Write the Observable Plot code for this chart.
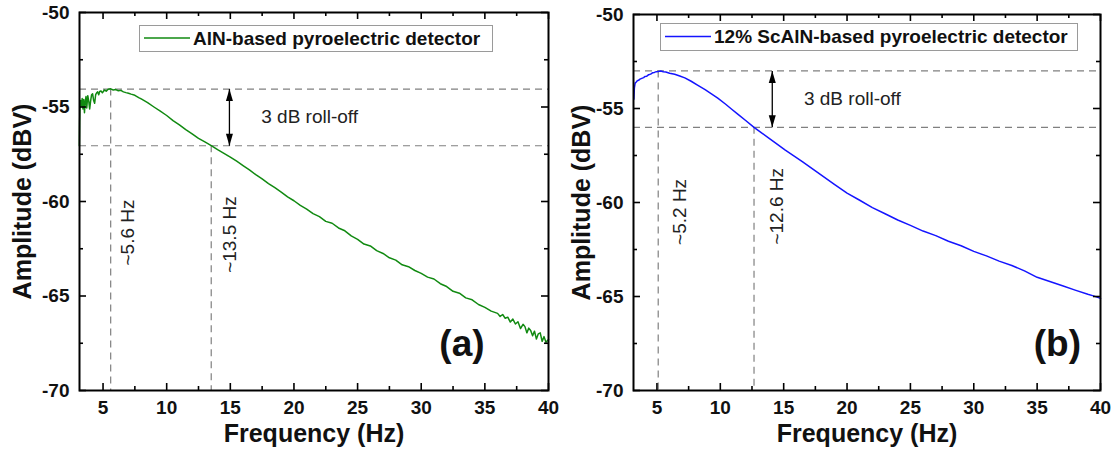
<!DOCTYPE html>
<html><head><meta charset="utf-8">
<script src="https://cdn.jsdelivr.net/npm/d3@7"></script>
<script src="https://cdn.jsdelivr.net/npm/@observablehq/plot@0.6"></script>
<style>
body{margin:0;background:#fff;font-family:"Liberation Sans",Arial,sans-serif;}
#wrap{position:relative;width:1118px;height:450px;overflow:hidden;}
.panel{position:absolute;top:0;}
.panel svg{overflow:visible;}
.legend{position:absolute;border:1.5px solid #9a9a9a;background:#fff;box-sizing:border-box;}
.legend svg{position:absolute;left:2px;top:0;}
.legend span{position:absolute;top:50%;transform:translateY(-50%);font-weight:bold;font-size:19px;color:#111;white-space:nowrap;}
</style></head><body><div id="wrap"></div>
<script>
// ---------- data ----------
const freqA = [3.14,3.16,3.19,3.24,3.30,3.36,3.42,3.48,3.54,3.60,3.66,3.72,3.80,3.88,3.95,4.02,4.10,4.18,4.26,4.34,4.42,4.50,4.58,4.66,4.74,4.84,4.95,5.10,5.25,5.40,5.60,5.80,6.00,6.20,6.40,6.60,6.80,7.00,7.20,7.50,7.80,8.00,8.50,9.00,9.50,10.0,10.5,11.0,11.5,12.0,12.5,13.0,13.5,14.0,14.5,15.0,15.5,16.0,16.5,17.0,17.5,18.0,18.5,19.0,19.5,20.0,20.5,21.0,21.5,22.0,22.5,23.0,23.5,24.0,24.5,25.0,25.5,26.0,26.5,27.0,27.5,28.0,28.5,29.0,29.5,30.0,30.5,31.0,31.5,32.0,32.5,33.0,33.5,34.0,34.5,35.0,35.5,36.0,36.2,36.4,36.6,36.8,37.0,37.2,37.4,37.6,37.8,38.0,38.15,38.3,38.45,38.6,38.75,38.9,39.05,39.2,39.35,39.5,39.65,39.8,40.0];
const ampA = [-57.05,-55.8,-54.9,-54.66,-54.95,-54.55,-55.1,-54.6,-55.3,-54.7,-54.45,-55.05,-54.4,-54.7,-55.1,-54.7,-54.35,-54.3,-54.65,-54.8,-54.35,-54.25,-54.2,-54.35,-54.18,-54.15,-54.25,-54.1,-54.16,-54.06,-54.04,-54.1,-54.08,-54.14,-54.12,-54.2,-54.24,-54.27,-54.32,-54.38,-54.5,-54.57,-54.77,-55.0,-55.22,-55.45,-55.72,-55.95,-56.2,-56.42,-56.66,-56.85,-57.04,-57.26,-57.45,-57.65,-57.87,-58.1,-58.33,-58.58,-58.8,-59.05,-59.27,-59.5,-59.75,-59.96,-60.2,-60.4,-60.64,-60.8,-61.05,-61.15,-61.4,-61.55,-61.82,-62.0,-62.25,-62.35,-62.6,-62.75,-62.98,-63.1,-63.35,-63.45,-63.65,-63.8,-64.0,-64.1,-64.35,-64.5,-64.75,-64.85,-65.1,-65.2,-65.45,-65.6,-65.8,-65.92,-66.08,-65.98,-66.18,-66.12,-66.38,-66.22,-66.48,-66.36,-66.72,-66.5,-66.62,-66.95,-66.7,-66.82,-67.1,-66.86,-67.28,-67.0,-66.95,-67.4,-67.15,-67.45,-67.3];

const freqB = [3.18,3.22,3.28,3.35,3.45,3.55,3.66,3.80,3.95,4.05,4.20,4.35,4.50,4.65,4.80,4.95,5.10,5.30,5.50,5.70,6.00,6.40,6.80,7.20,7.70,8.20,8.80,9.30,9.80,10.4,10.9,11.4,12.0,12.66,13.2,13.8,14.4,15.1,15.8,16.5,17.0,18.0,19.0,20.0,21.0,22.0,23.0,24.0,25.0,26.0,27.0,28.0,29.0,30.0,31.0,32.0,33.0,34.0,35.0,36.0,37.0,38.0,39.0,39.5,40.0];
const ampB = [-54.5,-53.9,-53.65,-53.6,-53.52,-53.5,-53.44,-53.4,-53.36,-53.3,-53.28,-53.2,-53.17,-53.1,-53.08,-53.04,-53.03,-53.01,-53.05,-53.06,-53.12,-53.18,-53.27,-53.37,-53.55,-53.76,-54.0,-54.22,-54.45,-54.76,-55.04,-55.31,-55.64,-56.0,-56.27,-56.56,-56.85,-57.2,-57.52,-57.84,-58.08,-58.56,-59.03,-59.5,-59.88,-60.27,-60.6,-60.93,-61.22,-61.52,-61.76,-62.06,-62.3,-62.6,-62.84,-63.12,-63.35,-63.64,-63.98,-64.2,-64.43,-64.66,-64.88,-64.98,-65.1];

const xMajor = [5,10,15,20,25,30,35,40];
const xMinor = [7.5,12.5,17.5,22.5,27.5,32.5,37.5];
const yMajor = [-70,-65,-60,-55,-50];
const yMinor = [-67.5,-62.5,-57.5,-52.5];
const xTitle = "Frequency (Hz)";
const yTitle = "Amplitude (dBV)";

const labelsA = {legend:"AlN-based pyroelectric detector", tag:"(a)", peak:"~5.6 Hz", cut:"~13.5 Hz", roll:"3 dB roll-off"};
const labelsB = {legend:"12% ScAlN-based pyroelectric detector", tag:"(b)", peak:"~5.2 Hz", cut:"~12.6 Hz", roll:"3 dB roll-off"};
// annotation values: peak freq, cutoff freq, peak level, cutoff level
const annotA = {fPeak:5.6, fCut:13.5, lPeak:-54.05, lCut:-57.05, fArrow:14.93};
const annotB = {fPeak:5.1, fCut:12.66, lPeak:-53.0, lCut:-56.0, fArrow:14.1};

// ---------- drawing ----------
const headUp = {draw(ctx){ctx.moveTo(0,0);ctx.lineTo(-3.5,12);ctx.lineTo(3.5,12);ctx.closePath();}};
const headDown = {draw(ctx){ctx.moveTo(0,0);ctx.lineTo(-3.5,-12);ctx.lineTo(3.5,-12);ctx.closePath();}};

function panel(freq, amp, color, lab, an, lay) {
  const data = freq.map((f,i)=>({f, a: amp[i]}));
  const W = 559, H = 450;
  const pw = W - lay.ml - lay.mr, ph = H - lay.mt - lay.mb;
  const xDom = [3.15, 40], yDom = [-70, -50];
  const dash = {stroke:"#808080", strokeWidth:1.2, strokeDasharray:"7,5"};
  const tk = {stroke:"black", strokeWidth:1.6};
  const txt = {fill:"#111", fontWeight:"bold"};
  return Plot.plot({
    width: W, height: H,
    marginLeft: lay.ml, marginRight: lay.mr, marginTop: lay.mt, marginBottom: lay.mb,
    style: {background:"transparent", color:"black", fontFamily:"'Liberation Sans', Arial, sans-serif"},
    x: {domain: xDom, axis: null},
    y: {domain: yDom, axis: null},
    marks: [
      Plot.ruleY([an.lPeak, an.lCut], dash),
      Plot.ruleX([{f:an.fPeak, top:an.lPeak}, {f:an.fCut, top:an.lCut}], {x:"f", y1:"top", y2: yDom[0], ...dash}),
      Plot.line(data, {x:"f", y:"a", stroke: color, strokeWidth: 1.5}),
      Plot.link([{f:an.fArrow, a:an.lPeak, b:an.lCut}], {x1:"f", x2:"f", y1:"a", y2:"b", stroke:"black", strokeWidth:1.3}),
      Plot.dot([{f:an.fArrow, a:an.lPeak}], {x:"f", y:"a", symbol: headUp, fill:"black", stroke:"none"}),
      Plot.dot([{f:an.fArrow, a:an.lCut}], {x:"f", y:"a", symbol: headDown, fill:"black", stroke:"none"}),
      Plot.text([lab.roll], {x: an.fArrow + 2.5, y: (an.lPeak + an.lCut)/2 - lay.rollDy, textAnchor:"start", fontSize:19, fill:"#222"}),
      Plot.text([lab.peak], {x: an.fPeak + lay.pOff, y: lay.pY, rotate:-90, fontSize:19, fill:"#222"}),
      Plot.text([lab.cut], {x: an.fArrow + lay.cOff, y: lay.cY, rotate:-90, fontSize:19, fill:"#222"}),
      Plot.text([lab.tag], {x: lay.tagX, y: -67.55, fontSize:37, ...txt}),
      // inward ticks on all four sides
      Plot.ruleX(xMajor, {insetTop: ph - 7, ...tk}),
      Plot.ruleX(xMajor, {insetBottom: ph - 7, ...tk}),
      Plot.ruleX(xMinor, {insetTop: ph - 4, ...tk}),
      Plot.ruleX(xMinor, {insetBottom: ph - 4, ...tk}),
      Plot.ruleY(yMajor, {insetRight: pw - 7, ...tk}),
      Plot.ruleY(yMajor, {insetLeft: pw - 7, ...tk}),
      Plot.ruleY(yMinor, {insetRight: pw - 4, ...tk}),
      Plot.ruleY(yMinor, {insetLeft: pw - 4, ...tk}),
      Plot.frame({stroke:"black", strokeWidth:2}),
      // tick labels
      Plot.text(xMajor, {x: d => d, text: d => String(d), frameAnchor:"bottom", lineAnchor:"top", dy: 10, fontSize:19, ...txt}),
      Plot.text(yMajor, {y: d => d, text: d => String(d), frameAnchor:"left", textAnchor:"end", lineAnchor:"middle", dx: -10, fontSize:19, ...txt}),
      // axis titles
      Plot.text([xTitle], {frameAnchor:"bottom", lineAnchor:"middle", textAnchor:"middle", dy: 43, fontSize:25, ...txt}),
      Plot.text([yTitle], {frameAnchor:"left", lineAnchor:"middle", textAnchor:"middle", dx: -lay.yTitleOff, rotate:-90, fontSize:25, ...txt})
    ]
  });
}

function legend(parent, text, color, box) {
  const d = document.createElement("div");
  d.className = "legend";
  Object.assign(d.style, {left: box.x+"px", top: box.y+"px", width: box.w+"px", height: box.h+"px"});
  const ns = "http://www.w3.org/2000/svg";
  const s = document.createElementNS(ns, "svg");
  s.setAttribute("width", 50); s.setAttribute("height", box.h - 3);
  const l = document.createElementNS(ns, "line");
  l.setAttribute("x1", 2); l.setAttribute("x2", 48);
  l.setAttribute("y1", (box.h-3)/2); l.setAttribute("y2", (box.h-3)/2);
  l.setAttribute("stroke", color); l.setAttribute("stroke-width", 1.6);
  s.appendChild(l); d.appendChild(s);
  const t = document.createElement("span");
  t.textContent = text; t.style.left = "53px";
  d.appendChild(t);
  parent.appendChild(d);
}

const wrap = document.getElementById("wrap");
const layA = {ml:79, mr:11, mt:12, mb:60, pOff:1.35, pY:-61.64, cOff:0.07, cY:-61.75, tagX:33.2, yTitleOff:57, rollDy:0.0};
const layB = {ml:74, mr:18, mt:14, mb:60, pOff:1.75, pY:-60.5, cOff:0.36, cY:-60.2, tagX:36.6, yTitleOff:52, rollDy:0.0};
const a = panel(freqA, ampA, "#118a11", labelsA, annotA, layA);
const b = panel(freqB, ampB, "#1414ff", labelsB, annotB, layB);
const da = document.createElement("div"); da.className = "panel"; da.style.left = "0px"; da.appendChild(a);
const db = document.createElement("div"); db.className = "panel"; db.style.left = "559px"; db.appendChild(b);
wrap.appendChild(da); wrap.appendChild(db);
legend(wrap, labelsA.legend, "#118a11", {x:139, y:25, w:354, h:27});
legend(wrap, labelsB.legend, "#1414ff", {x:660, y:23, w:418, h:28});
</script></body></html>
